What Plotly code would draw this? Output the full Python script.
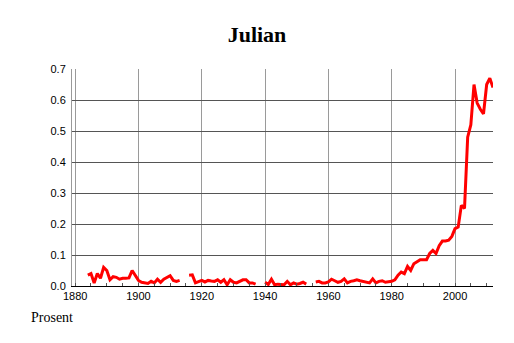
import plotly.graph_objects as go

years = list(range(1884, 2013))
values = [
    0.035, 0.04, 0.01, 0.04, 0.025, 0.06, 0.05, 0.02, 0.03, 0.028,      # 1884-1893
    0.022, 0.025, 0.025, 0.026, 0.05, 0.035, 0.018, 0.012, 0.01, 0.008,  # 1894-1903
    0.015, 0.01, 0.022, 0.012, 0.022, 0.028, 0.033, 0.018, 0.015, 0.018, # 1904-1913
    None, None, 0.035, 0.036, 0.01, 0.015, 0.018, 0.013, 0.018, 0.016,   # 1914-1923
    0.015, 0.02, 0.012, 0.02, 0.004, 0.02, 0.012, 0.01, 0.016, 0.02,     # 1924-1933
    0.02, 0.01, 0.01, 0.006, None, None, 0.012, 0.005, 0.022, 0.004,     # 1934-1943
    0.006, 0.005, 0.004, 0.015, 0.004, 0.01, 0.006, 0.008, 0.012, 0.006, # 1944-1953
    None, None, 0.013, 0.015, 0.01, 0.01, 0.013, 0.022, 0.017, 0.012,    # 1954-1963
    0.015, 0.023, 0.01, 0.015, 0.017, 0.02, 0.017, 0.015, 0.013, 0.01,   # 1964-1973
    0.023, 0.01, 0.015, 0.017, 0.012, 0.013, 0.015, 0.02, 0.035, 0.045,  # 1974-1983
    0.04, 0.063, 0.05, 0.072, 0.08, 0.085, 0.085, 0.085, 0.105, 0.115,   # 1984-1993
    0.105, 0.13, 0.145, 0.145, 0.148, 0.16, 0.185, 0.19, 0.26, 0.25,     # 1994-2003
    0.48, 0.52, 0.65, 0.59, 0.57, 0.555, 0.65, 0.67, 0.64,               # 2004-2012
]

title_text = "Julian"
y_label = "Prosent"
x_ticks = [1880, 1900, 1920, 1940, 1960, 1980, 2000]
y_ticks = [0.0, 0.1, 0.2, 0.3, 0.4, 0.5, 0.6, 0.7]

fig = go.Figure()
fig.add_trace(go.Scatter(
    x=years, y=values, mode="lines",
    line=dict(color="#ff0000", width=3),
    connectgaps=False, showlegend=False, cliponaxis=False,
))

fig.update_layout(
    width=514, height=343,
    margin=dict(l=72, r=21, t=69, b=57),
    paper_bgcolor="white", plot_bgcolor="white",
    title=dict(text="<b>" + title_text + "</b>", x=0.5, xref="container", xanchor="center",
               y=1 - 34 / 343, yref="container", yanchor="middle",
               font=dict(family="Liberation Serif", size=22, color="black")),
    font=dict(family="Liberation Sans", size=11, color="black"),
    xaxis=dict(range=[1879, 2012], tickvals=x_ticks, ticktext=[str(v) for v in x_ticks],
               showgrid=True, gridcolor="#9a9a9a", gridwidth=1,
               showline=True, linecolor="black", linewidth=1,
               ticks="", zeroline=False,
               minor=dict(dtick=5, tick0=1880, ticks="inside", ticklen=3, tickcolor="#555", showgrid=False),
               tickfont=dict(size=11)),
    yaxis=dict(range=[0, 0.7], tickvals=y_ticks, ticktext=["%.1f" % v for v in y_ticks],
               showgrid=True, gridcolor="#555555", gridwidth=1,
               showline=True, linecolor="#9a9a9a", linewidth=1,
               ticks="", zeroline=False, tickfont=dict(size=11),
               ticklabelstandoff=3),
    annotations=[dict(text=y_label, xref="paper", yref="paper", x=-0.102, y=-0.146,
                      xanchor="left", yanchor="middle", showarrow=False,
                      font=dict(family="Liberation Serif", size=14, color="black"))],
)

fig.write_html("out.html")
